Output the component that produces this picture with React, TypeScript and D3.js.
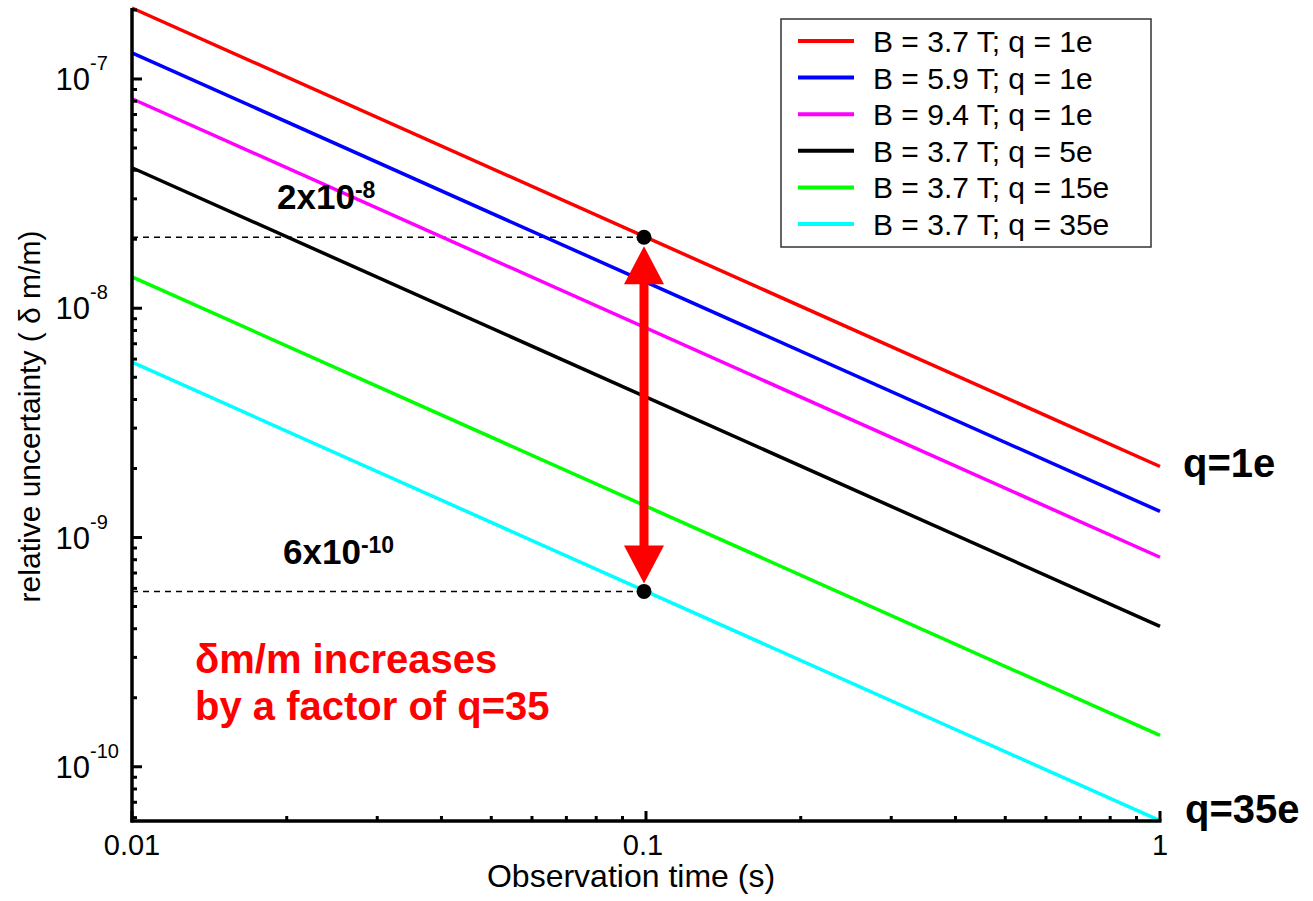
import React from "react";
import * as d3 from "d3";

// ---- data ----
const times = [0.01, 1];
const seriesLabels = [
  "B = 3.7 T; q = 1e",
  "B = 5.9 T; q = 1e",
  "B = 9.4 T; q = 1e",
  "B = 3.7 T; q = 5e",
  "B = 3.7 T; q = 15e",
  "B = 3.7 T; q = 35e",
];
const seriesColors = ["#ff0000", "#0000ff", "#ff00ff", "#000000", "#00ff00", "#00ffff"];
const valuesAtStart = [2.04e-7, 1.3e-7, 8.2e-8, 4.1e-8, 1.37e-8, 5.82e-9];
const valuesAtEnd = [2.04e-9, 1.3e-9, 8.2e-10, 4.1e-10, 1.37e-10, 5.82e-11];

const xMajorTicks = [0.01, 0.1, 1];
const xTickLabels = ["0.01", "0.1", "1"];
const yMajorTicks = [1e-10, 1e-9, 1e-8, 1e-7];
const yTickExponents = ["-10", "-9", "-8", "-7"];

const markerTime = 0.1;
const markerValues = [2.04e-8, 5.82e-10];
const markerLabels = [
  { base: "2x10", exp: "-8" },
  { base: "6x10", exp: "-10" },
];

const xDomain = [0.01, 1];
const yDomain = [5.8e-11, 2.04e-7];

const FONT = "Arial, 'Liberation Sans', Helvetica, sans-serif";

export default function App() {
  const W = 1313;
  const H = 901;
  const left = 132;
  const right = 1160;
  const top = 8;
  const bottom = 821;

  const x = d3.scaleLog().domain(xDomain).range([left, right]);
  const y = d3.scaleLog().domain(yDomain).range([bottom, top]);

  const line = d3
    .line<[number, number]>()
    .x((d) => x(d[0]))
    .y((d) => y(d[1]));

  const xMinor: number[] = [];
  for (const dec of [0.01, 0.1]) {
    for (let k = 2; k <= 9; k++) xMinor.push(dec * k);
  }
  const yMinor: number[] = [];
  for (const dec of [1e-11, 1e-10, 1e-9, 1e-8, 1e-7]) {
    for (let k = 2; k <= 9; k++) {
      const v = dec * k;
      if (v >= yDomain[0] && v <= yDomain[1]) yMinor.push(v);
    }
  }

  const mx = x(markerTime) - 2;
  const yTopDot = y(markerValues[0]);
  const yBotDot = y(markerValues[1]);
  const headW = 20;
  const headH = 38;
  const tipTop = yTopDot + 9;
  const tipBot = yBotDot - 8;

  return (
    <div style={{ position: "absolute", left: 0, top: 0 }}>
      <svg width={W} height={H} style={{ display: "block", background: "#fff" }} fontFamily={FONT}>
        <rect x={0} y={0} width={W} height={H} fill="#fff" />

        {markerValues.map((v, i) => (
          <line
            key={"dash" + i}
            x1={left}
            x2={mx}
            y1={y(v)}
            y2={y(v)}
            stroke="#000"
            strokeWidth={1.5}
            strokeDasharray="6,5"
          />
        ))}

        {seriesLabels.map((s, i) => (
          <path
            key={s}
            d={line([
              [times[0], valuesAtStart[i]],
              [times[1], valuesAtEnd[i]],
            ]) as string}
            fill="none"
            stroke={seriesColors[i]}
            strokeWidth={3.5}
          />
        ))}

        <rect x={mx - 4.5} y={tipTop + headH - 1} width={9} height={tipBot - tipTop - 2 * headH + 2} fill="#ff0000" />
        <polygon
          points={`${mx},${tipTop} ${mx - headW},${tipTop + headH} ${mx + headW},${tipTop + headH}`}
          fill="#ff0000"
        />
        <polygon
          points={`${mx},${tipBot} ${mx - headW},${tipBot - headH} ${mx + headW},${tipBot - headH}`}
          fill="#ff0000"
        />

        {markerValues.map((v, i) => (
          <circle key={"dot" + i} cx={mx} cy={y(v)} r={7.5} fill="#000" />
        ))}

        <text x={277} y={209} fontSize={35} fontWeight="bold" fill="#000">
          {markerLabels[0].base}
          <tspan fontSize={23} dy={-11}>{markerLabels[0].exp}</tspan>
        </text>
        <text x={283} y={564} fontSize={35} fontWeight="bold" fill="#000">
          {markerLabels[1].base}
          <tspan fontSize={23} dy={-11}>{markerLabels[1].exp}</tspan>
        </text>

        <line x1={left} x2={left} y1={top} y2={bottom + 1.5} stroke="#000" strokeWidth={3.5} />
        <line x1={left - 1.5} x2={right + 1.5} y1={bottom} y2={bottom} stroke="#000" strokeWidth={3.5} />

        {xMajorTicks.map((t, i) => (
          <g key={"xt" + i}>
            <line x1={x(t)} x2={x(t)} y1={bottom} y2={bottom - 10} stroke="#000" strokeWidth={3} />
            <text x={x(t) - (i === 1 ? 3 : 0)} y={855} fontSize={29} textAnchor="middle" fill="#000">
              {xTickLabels[i]}
            </text>
          </g>
        ))}
        {xMinor.map((t, i) => (
          <line key={"xm" + i} x1={x(t)} x2={x(t)} y1={bottom} y2={bottom - 5} stroke="#000" strokeWidth={3} />
        ))}

        {yMajorTicks.map((t, i) => (
          <g key={"yt" + i}>
            <line x1={left} x2={left + 10} y1={y(t)} y2={y(t)} stroke="#000" strokeWidth={3} />
            <text x={90} y={y(t) + 11} fontSize={31} textAnchor="end" fill="#000">
              10
            </text>
            <text x={90} y={y(t) - 9} fontSize={20} textAnchor="start" fill="#000">
              {yTickExponents[i]}
            </text>
          </g>
        ))}
        {yMinor.map((t, i) => (
          <line key={"ym" + i} x1={left} x2={left + 5} y1={y(t)} y2={y(t)} stroke="#000" strokeWidth={3} />
        ))}

        <text x={631} y={887} fontSize={32} textAnchor="middle" fill="#000">
          Observation time (s)
        </text>
        <text
          transform={`translate(40, ${(top + bottom) / 2 + 2}) rotate(-90)`}
          fontSize={30}
          textAnchor="middle"
          fill="#000"
        >
          relative uncertainty ( δ m/m)
        </text>

        <text x={1183} y={477} fontSize={40} fontWeight="bold" fill="#000">
          q=1e
        </text>
        <text x={1185} y={823} fontSize={40} fontWeight="bold" fill="#000">
          q=35e
        </text>

        <text x={195} y={673} fontSize={40} fontWeight="bold" fill="#ff0000">
          δm/m increases
        </text>
        <text x={195} y={720} fontSize={40} fontWeight="bold" fill="#ff0000">
          by a factor of q=35
        </text>

        <rect x={781} y={19} width={370} height={228} fill="#fff" stroke="#333" strokeWidth={1.5} />
        {seriesLabels.map((s, i) => {
          const ry = 41 + i * 36.6;
          return (
            <g key={"lg" + i}>
              <line x1={798} x2={854} y1={ry} y2={ry} stroke={seriesColors[i]} strokeWidth={4} />
              <text x={873} y={ry + 11} fontSize={30} fill="#000">
                {s}
              </text>
            </g>
          );
        })}
      </svg>
    </div>
  );
}
